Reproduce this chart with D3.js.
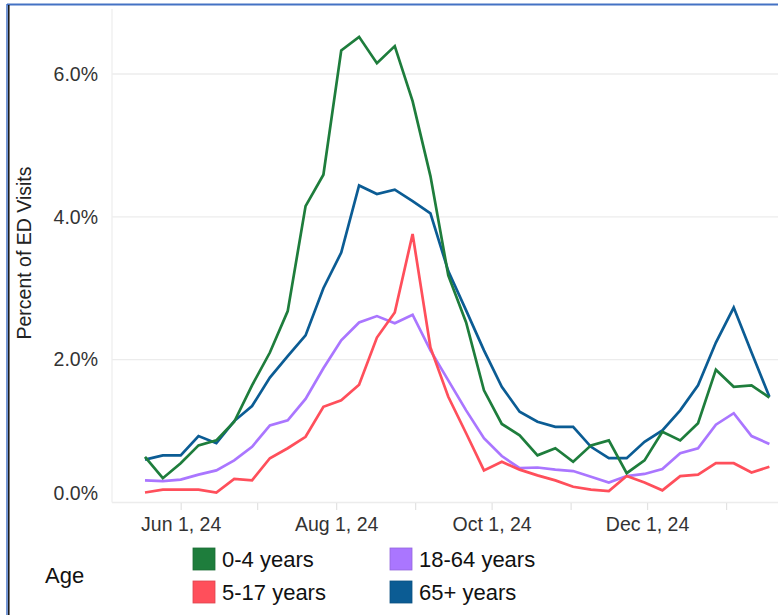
<!DOCTYPE html>
<html>
<head>
<meta charset="utf-8">
<script src="https://cdn.jsdelivr.net/npm/d3@7"></script>
<style>
	body { margin: 0; background: #fff; }
	svg { display: block; font-family: "Liberation Sans", Arial, sans-serif; }
	.tick text { fill: #333; font-size: 19.5px; }
</style>
</head>
<body>
<div class="chart"></div>
<script>
var weeks = ["2024-05-18", "2024-05-25", "2024-06-01", "2024-06-08", "2024-06-15", "2024-06-22",
	"2024-06-29", "2024-07-06", "2024-07-13", "2024-07-20", "2024-07-27", "2024-08-03",
	"2024-08-10", "2024-08-17", "2024-08-24", "2024-08-31", "2024-09-07", "2024-09-14",
	"2024-09-21", "2024-09-28", "2024-10-05", "2024-10-12", "2024-10-19", "2024-10-26",
	"2024-11-02", "2024-11-09", "2024-11-16", "2024-11-23", "2024-11-30", "2024-12-07",
	"2024-12-14", "2024-12-21", "2024-12-28", "2025-01-04", "2025-01-11", "2025-01-18"];

var age0to4 = [0.64, 0.34, 0.55, 0.80, 0.87, 1.13, 1.64, 2.10, 2.68, 4.15, 4.59, 6.33,
	6.52, 6.15, 6.39, 5.62, 4.57, 3.18, 2.52, 1.57, 1.10, 0.94, 0.66, 0.76,
	0.57, 0.80, 0.87, 0.41, 0.59, 0.99, 0.87, 1.11, 1.86, 1.62, 1.64, 1.47];
var age5to17 = [0.14, 0.18, 0.18, 0.18, 0.14, 0.33, 0.31, 0.62, 0.76, 0.92, 1.34, 1.43,
	1.65, 2.31, 2.66, 3.76, 2.17, 1.48, 0.97, 0.45, 0.57, 0.46, 0.38, 0.31,
	0.22, 0.18, 0.16, 0.37, 0.28, 0.17, 0.37, 0.39, 0.55, 0.55, 0.42, 0.50];
var age18to64 = [0.31, 0.30, 0.32, 0.39, 0.45, 0.59, 0.78, 1.08, 1.15, 1.45, 1.88, 2.27,
	2.52, 2.61, 2.51, 2.63, 2.13, 1.71, 1.29, 0.90, 0.65, 0.48, 0.49, 0.46,
	0.44, 0.36, 0.28, 0.37, 0.40, 0.47, 0.69, 0.76, 1.09, 1.25, 0.93, 0.82];
var age65plus = [0.60, 0.66, 0.66, 0.93, 0.83, 1.14, 1.35, 1.75, 2.05, 2.34, 3.00, 3.50,
	4.44, 4.32, 4.38, 4.22, 4.05, 3.24, 2.69, 2.13, 1.62, 1.27, 1.13, 1.06,
	1.06, 0.78, 0.62, 0.62, 0.85, 1.01, 1.29, 1.64, 2.24, 2.73, 2.10, 1.48];

var seriesNames = ["0-4 years", "5-17 years", "18-64 years", "65+ years"];
var yTicks = [0, 2, 4, 6];
var monthTicks = ["2024-06-01", "2024-07-01", "2024-08-01", "2024-09-01", "2024-10-01",
	"2024-11-01", "2024-12-01", "2025-01-01"];
var labelledMonths = ["2024-06-01", "2024-08-01", "2024-10-01", "2024-12-01"];

(function () {

	var W = 778, H = 615;
	var colors = { "0-4 years": "#1e7d3c", "5-17 years": "#ff4f5b", "18-64 years": "#aa76ff", "65+ years": "#0b5c94" };
	var values = { "0-4 years": age0to4, "5-17 years": age5to17, "18-64 years": age18to64, "65+ years": age65plus };

	var parse = d3.utcParse("%Y-%m-%d");
	var dates = weeks.map(parse);

	var svg = d3.select(".chart")
		.append("svg")
		.attr("width", W)
		.attr("height", H);

	var left = 112, bottom = 502.5, right = W;

	var x = d3.scaleUtc()
		.domain([dates[0], dates[dates.length - 1]])
		.range([145, 769.4]);

	var y = d3.scaleLinear()
		.domain([0, 6])
		.range([bottom, 74]);

	// grid
	svg.append("g")
		.selectAll("line")
		.data(yTicks)
		.enter().append("line")
		.attr("x1", left).attr("x2", right)
		.attr("y1", function(d) { return y(d); })
		.attr("y2", function(d) { return y(d); })
		.attr("stroke", "#ececec")
		.attr("stroke-width", 1.3);

	svg.append("line")
		.attr("x1", left).attr("x2", left)
		.attr("y1", 9).attr("y2", bottom)
		.attr("stroke", "#efefef")
		.attr("stroke-width", 1.3);

	// y axis labels, bottom one nudged up to sit inside the pane
	var yAxis = svg.append("g")
		.attr("transform", "translate(98,0)")
		.call(d3.axisLeft(y).tickValues(yTicks).tickSize(0).tickPadding(0)
			.tickFormat(function(d) { return d.toFixed(1) + "%"; }));
	yAxis.select(".domain").remove();
	yAxis.selectAll(".tick")
		.filter(function(d) { return d === 0; })
		.select("text")
		.attr("dy", "-0.18em");

	// x axis
	var labelled = labelledMonths.map(function(s) { return +parse(s); });
	var xAxis = svg.append("g")
		.attr("transform", "translate(0," + (bottom + 0.5) + ")")
		.call(d3.axisBottom(x).tickValues(monthTicks.map(parse)).tickSize(7).tickPadding(7)
			.tickFormat(function(d) { return labelled.indexOf(+d) >= 0 ? d3.utcFormat("%b %-d, %y")(d) : ""; }));
	xAxis.select(".domain").remove();
	xAxis.selectAll(".tick line").attr("stroke", "#e2e2e2").attr("stroke-width", 1.2);

	// y title
	svg.append("text")
		.attr("transform", "translate(31,253) rotate(-90)")
		.attr("text-anchor", "middle")
		.style("font-size", "19.5px")
		.style("fill", "#222")
		.text("Percent of ED Visits");

	// lines
	var line = d3.line()
		.x(function(d, i) { return x(dates[i]); })
		.y(function(d) { return y(d); });

	svg.append("g")
		.selectAll("path")
		.data(["18-64 years", "5-17 years", "65+ years", "0-4 years"])
		.enter().append("path")
		.attr("d", function(s) { return line(values[s]); })
		.attr("fill", "none")
		.attr("stroke", function(s) { return colors[s]; })
		.attr("stroke-width", 2.7)
		.attr("stroke-linejoin", "miter");

	// legend
	svg.append("text")
		.attr("x", 45).attr("y", 583)
		.style("font-size", "22px")
		.style("fill", "#111")
		.text("Age");

	var item = svg.append("g")
		.selectAll("g")
		.data(seriesNames)
		.enter().append("g")
		.attr("transform", function(d, i) {
			return "translate(" + (i < 2 ? 193 : 390) + "," + (i % 2 === 0 ? 548 : 581) + ")";
		});

	item.append("rect")
		.attr("width", 22).attr("height", 22)
		.attr("fill", function(d) { return colors[d]; })
		.attr("stroke", function(d) { return d3.color(colors[d]).darker(0.4); })
		.attr("stroke-width", 0.8);

	item.append("text")
		.attr("x", 29).attr("y", 19)
		.style("font-size", "22px")
		.style("fill", "#111")
		.text(function(d) { return d; });

	// frame
	svg.append("line")
		.attr("x1", 7).attr("x2", W).attr("y1", 4.5).attr("y2", 4.5)
		.attr("stroke", "#4472c4").attr("stroke-width", 2.2);
	svg.append("line")
		.attr("x1", 7).attr("x2", 7).attr("y1", 4).attr("y2", H)
		.attr("stroke", "#4472c4").attr("stroke-width", 1.5);
	svg.append("line")
		.attr("x1", 8.8).attr("x2", 8.8).attr("y1", 5).attr("y2", H)
		.attr("stroke", "#111").attr("stroke-width", 1.5);

})();
</script>
</body>
</html>
